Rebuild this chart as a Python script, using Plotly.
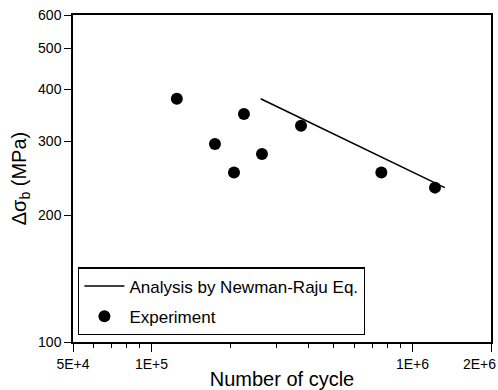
import math
import plotly.graph_objects as go

exp_cycles = [1.25e5, 1.75e5, 2.07e5, 2.26e5, 2.65e5, 3.74e5, 7.6e5, 1.22e6]
exp_stress = [379, 296, 253, 349, 280, 327, 253, 233]
line_cycles = [2.62e5, 1.33e6]
line_stress = [379, 233]

x_major = [5e4, 1e5, 1e6, 2e6]
x_major_text = ["5E+4", "1E+5", "1E+6", "2E+6"]
x_minor = [6e4, 7e4, 8e4, 9e4, 2e5, 3e5, 4e5, 5e5, 6e5, 7e5, 8e5, 9e5]
y_major = [100, 200, 300, 400, 500, 600]

font = "Liberation Sans, Arial, sans-serif"

fig = go.Figure()
fig.add_trace(go.Scatter(x=line_cycles, y=line_stress, mode="lines",
                         line=dict(color="black", width=1.6),
                         name="Analysis by Newman-Raju Eq.", legendgroup="a"))
fig.add_trace(go.Scatter(x=exp_cycles, y=exp_stress, mode="markers",
                         marker=dict(color="black", size=12),
                         name="Experiment", legendgroup="b"))

# last tick label drawn as annotation (log axis -> log10 position) so it stays inside the picture
fig.add_annotation(x=math.log10(x_major[-1]), xref="x", y=0, yref="paper",
                   text=x_major_text[-1], showarrow=False,
                   xanchor="right", yanchor="top", xshift=7, yshift=-12,
                   font=dict(size=14, family=font, color="black"))

fig.update_layout(
    width=498, height=390,
    margin=dict(l=73, r=7, t=15, b=48, autoexpand=False),
    paper_bgcolor="white", plot_bgcolor="white",
    font=dict(family=font, color="black", size=13),
    showlegend=True,
    legend=dict(x=0.012, y=0.229, xanchor="left", yanchor="top",
                bordercolor="black", borderwidth=1.4, bgcolor="white",
                font=dict(size=17, family=font), tracegroupgap=5,
                itemwidth=40),
    xaxis=dict(type="log", range=[4.69897, 6.30103],
               tickvals=x_major, ticktext=x_major_text[:-1] + [""],
               ticks="outside", ticklen=8, tickwidth=1.3, tickcolor="black",
               minor=dict(tickvals=x_minor, ticks="outside", ticklen=4,
                          tickwidth=1.2, tickcolor="black"),
               showline=True, linecolor="black", linewidth=1.5, mirror=True,
               showgrid=False, zeroline=False, automargin=False,
               tickfont=dict(size=14),
               title=dict(text="Number of cycle", font=dict(size=20), standoff=6)),
    yaxis=dict(type="log", range=[2, 2.778151],
               tickvals=y_major, ticktext=[str(v) for v in y_major],
               ticks="outside", ticklen=7, tickwidth=1.3, tickcolor="black",
               showline=True, linecolor="black", linewidth=1.5, mirror=True,
               showgrid=False, zeroline=False, automargin=False,
               tickfont=dict(size=14),
               title=dict(text="Δσ<sub>b</sub> (MPa)", font=dict(size=20), standoff=6)),
)

fig.write_html("out.html")
